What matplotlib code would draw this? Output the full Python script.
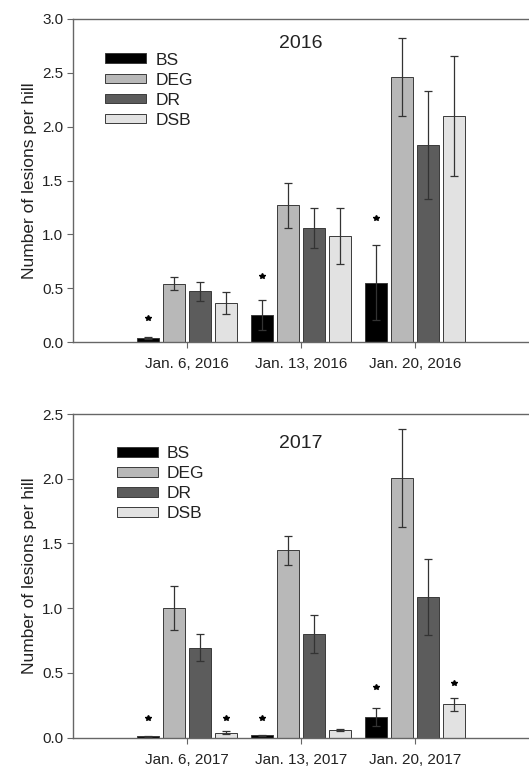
import matplotlib
matplotlib.use("Agg")
import matplotlib.pyplot as plt
import numpy as np
from matplotlib.patches import Patch

plt.rcParams['font.family'] = ['Liberation Sans', 'DejaVu Sans']

series = ["BS", "DEG", "DR", "DSB"]
colors = ["#000000", "#b8b8b8", "#5c5c5c", "#e2e2e2"]

dates_2016 = ["Jan. 6, 2016", "Jan. 13, 2016", "Jan. 20, 2016"]
means_2016 = {
    "BS":  [0.04, 0.25, 0.55],
    "DEG": [0.54, 1.27, 2.46],
    "DR":  [0.47, 1.06, 1.83],
    "DSB": [0.36, 0.98, 2.10],
}
errs_2016 = {
    "BS":  [0.01, 0.14, 0.35],
    "DEG": [0.06, 0.21, 0.36],
    "DR":  [0.085, 0.185, 0.50],
    "DSB": [0.10, 0.26, 0.56],
}
stars_2016 = {"BS": [0.22, 0.61, 1.15]}

dates_2017 = ["Jan. 6, 2017", "Jan. 13, 2017", "Jan. 20, 2017"]
means_2017 = {
    "BS":  [0.01, 0.018, 0.157],
    "DEG": [1.00, 1.447, 2.008],
    "DR":  [0.695, 0.80, 1.087],
    "DSB": [0.04, 0.062, 0.257],
}
errs_2017 = {
    "BS":  [0.003, 0.004, 0.07],
    "DEG": [0.17, 0.11, 0.38],
    "DR":  [0.105, 0.145, 0.29],
    "DSB": [0.015, 0.008, 0.052],
}
stars_2017 = {"BS": [0.15, 0.15, 0.39], "DSB": [0.15, None, 0.42]}

fig = plt.figure(figsize=(5.29, 7.67), dpi=100)
ax1 = fig.add_axes([73/529, 1-342/767, 1-73/529, (342-19)/767])
ax2 = fig.add_axes([73/529, 1-737.7/767, 1-73/529, (737.7-414)/767])

pitch = 0.229
width = 0.19
offsets = (np.arange(4) - 1.5) * pitch
spine_c = "#666666"
txt_c = "#222222"

def draw(ax, dates, means, errs, stars, ymax, title, title_y, leg_xy):
    x = np.arange(1, len(dates) + 1)
    for i, s in enumerate(series):
        ax.bar(x + offsets[i], means[s], width=width, color=colors[i],
               edgecolor="#3a3a3a", linewidth=0.7, zorder=2)
        ax.errorbar(x + offsets[i], means[s], yerr=errs[s], fmt="none",
                    ecolor="#333333", elinewidth=0.9, capsize=3, capthick=0.9, zorder=3)
        if s in stars:
            for xi, sv in zip(x + offsets[i], stars[s]):
                if sv is not None:
                    ax.plot(xi, sv, marker="*", ms=4, color="black", zorder=4)
    ax.set_xlim(0, 4)
    ax.set_ylim(0, ymax)
    yt = np.arange(0, ymax + 0.01, 0.5)
    ax.set_yticks(yt)
    ax.set_yticklabels([f"{v:.1f}" for v in yt])
    ax.set_xticks(x)
    ax.set_xticklabels(dates)
    ax.tick_params(axis="both", direction="out", length=4, color=spine_c,
                   labelsize=11, labelcolor=txt_c)
    ax.tick_params(axis="x", pad=7)
    ax.tick_params(axis="y", pad=3)
    for sp in ax.spines.values():
        sp.set_color(spine_c)
        sp.set_linewidth(1.0)
    ax.spines["right"].set_visible(False)
    ax.set_ylabel("Number of lesions per hill", fontsize=12.5, color=txt_c, labelpad=4)
    ax.text(0.5, title_y, title, transform=ax.transAxes,
            ha="center", va="center", fontsize=14, color=txt_c)
    handles = [Patch(facecolor=colors[i], edgecolor="#3a3a3a", linewidth=0.7)
               for i in range(4)]
    ax.legend(handles, series, loc="upper left", bbox_to_anchor=leg_xy,
              frameon=False, fontsize=12.5, handlelength=2.35, handleheight=0.5,
              handletextpad=0.55, labelspacing=0.29, borderpad=0, borderaxespad=0,
              labelcolor=txt_c)

draw(ax1, dates_2016, means_2016, errs_2016, stars_2016, 3.0, "2016", 0.925, (0.07, 0.896))
draw(ax2, dates_2017, means_2017, errs_2017, stars_2017, 2.5, "2017", 0.91, (0.096, 0.90))

fig.savefig("out.png", dpi=100)
